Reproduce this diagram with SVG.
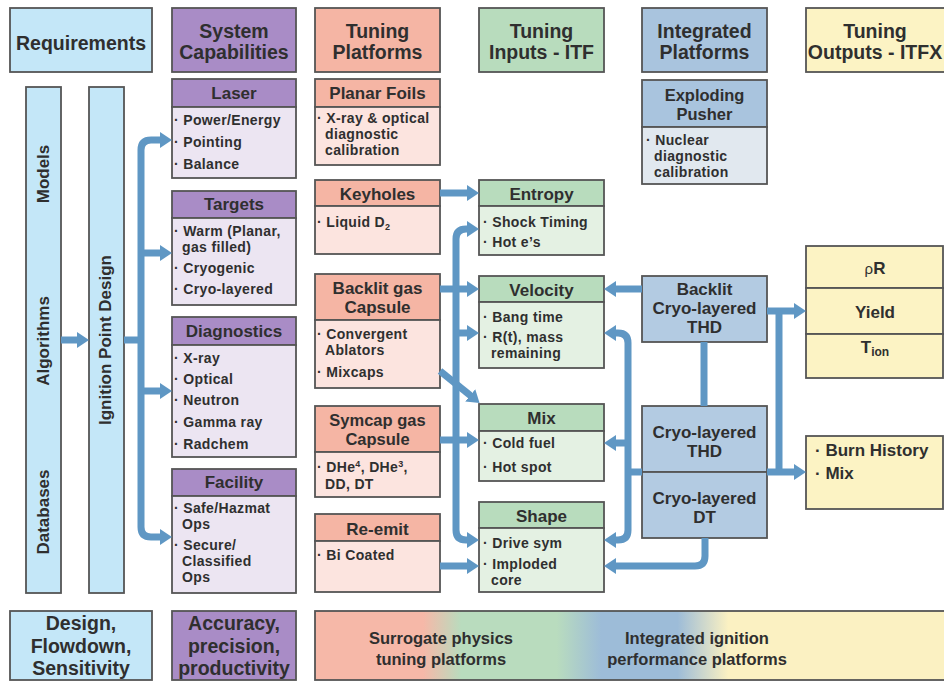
<svg xmlns="http://www.w3.org/2000/svg" width="944" height="683" viewBox="0 0 944 683">
<defs>
<style>
text{font-family:"Liberation Sans",Arial,Helvetica,sans-serif;font-weight:bold;fill:#2f2f2f}
.ti{font-size:19.5px;text-anchor:middle}
.hd{font-size:17px;text-anchor:middle}
.hd2{font-size:16.5px;text-anchor:middle}
.bd{font-size:14px;letter-spacing:0.35px}
.vt{font-size:17px;text-anchor:middle}
.op{font-size:17px}
.bt{font-size:16.5px;text-anchor:middle}
rect{stroke:#555;stroke-width:1.8}
.req{fill:#c4e7f8}
.purH{fill:#a98cc6}.purB{fill:#ece5f2}
.salH{fill:#f5b5a4}.salB{fill:#fce4df}
.grnH{fill:#b8dcbd}.grnB{fill:#e4f1e3}
.bluH{fill:#a9c4de}.bluB{fill:#e1e8ef}.blu{fill:#b3cbe2}
.yel{fill:#fcf3c4}
.cn{fill:none;stroke:#5f97c4;stroke-width:7}
.ar{marker-end:url(#ah)}
</style>
<marker id="ah" viewBox="0 0 12 16" refX="1" refY="8" markerWidth="12" markerHeight="16" markerUnits="userSpaceOnUse" orient="auto"><path d="M0,0 L12,8 L0,16 Z" fill="#5f97c4"/></marker>
<linearGradient id="gr" x1="0" y1="0" x2="1" y2="0">
<stop offset="0" stop-color="#f6b8a8"/>
<stop offset="0.17" stop-color="#f6b8a8"/>
<stop offset="0.23" stop-color="#b9dcbe"/>
<stop offset="0.38" stop-color="#b9dcbe"/>
<stop offset="0.45" stop-color="#9dbcd8"/>
<stop offset="0.57" stop-color="#9dbcd8"/>
<stop offset="0.65" stop-color="#fbf1c2"/>
<stop offset="1" stop-color="#fbf1c2"/>
</linearGradient>
</defs>

<!-- column titles -->
<g id="title-requirements"><rect class="req" x="10" y="8" width="142" height="64"/><text class="ti" x="81" y="50">Requirements</text></g>
<g id="title-system"><rect class="purH" x="172" y="8" width="124" height="64"/><text class="ti" x="234" y="38">System</text><text class="ti" x="234" y="59">Capabilities</text></g>
<g id="title-tuning-platforms"><rect class="salH" x="315" y="8" width="125" height="64"/><text class="ti" x="377.5" y="38">Tuning</text><text class="ti" x="377.5" y="59">Platforms</text></g>
<g id="title-tuning-inputs"><rect class="grnH" x="479" y="8" width="125" height="64"/><text class="ti" x="541.5" y="38">Tuning</text><text class="ti" x="541.5" y="59">Inputs - ITF</text></g>
<g id="title-integrated"><rect class="bluH" x="642" y="8" width="125" height="64"/><text class="ti" x="704.5" y="38">Integrated</text><text class="ti" x="704.5" y="59">Platforms</text></g>
<g id="title-outputs"><rect class="yel" x="806" y="8" width="145" height="64"/><text class="ti" x="875" y="38">Tuning</text><text class="ti" x="875" y="59">Outputs - ITFX</text></g>

<!-- requirement bars -->
<g id="bar-models"><rect class="req" x="26" y="87" width="35" height="506"/>
<text class="vt" transform="translate(49,174) rotate(-90)">Models</text>
<text class="vt" transform="translate(49,341) rotate(-90)">Algorithms</text>
<text class="vt" transform="translate(49,512) rotate(-90)">Databases</text></g>
<g id="bar-ignition"><rect class="req" x="89" y="87" width="35" height="506"/>
<text class="vt" transform="translate(111,340) rotate(-90)">Ignition Point Design</text></g>

<!-- system capabilities -->
<g id="laser"><rect class="purH" x="172" y="79" width="124" height="28"/><rect class="purB" x="172" y="107" width="124" height="71"/>
<text class="hd" x="234" y="99">Laser</text>
<text class="bd" x="174" y="125">· Power/Energy</text><text class="bd" x="174" y="147">· Pointing</text><text class="bd" x="174" y="169">· Balance</text></g>
<g id="targets"><rect class="purH" x="172" y="191" width="124" height="27"/><rect class="purB" x="172" y="218" width="124" height="87"/>
<text class="hd" x="234" y="210">Targets</text>
<text class="bd" x="174" y="236">· Warm (Planar,</text><text class="bd" x="182" y="252">gas filled)</text><text class="bd" x="174" y="273">· Cryogenic</text><text class="bd" x="174" y="294">· Cryo-layered</text></g>
<g id="diagnostics"><rect class="purH" x="172" y="317" width="124" height="28"/><rect class="purB" x="172" y="345" width="124" height="112"/>
<text class="hd" x="234" y="337">Diagnostics</text>
<text class="bd" x="174" y="363">· X-ray</text><text class="bd" x="174" y="384">· Optical</text><text class="bd" x="174" y="405">· Neutron</text><text class="bd" x="174" y="427">· Gamma ray</text><text class="bd" x="174" y="449">· Radchem</text></g>
<g id="facility"><rect class="purH" x="172" y="469" width="124" height="27"/><rect class="purB" x="172" y="496" width="124" height="97"/>
<text class="hd" x="234" y="488">Facility</text>
<text class="bd" x="174" y="513">· Safe/Hazmat</text><text class="bd" x="182" y="529">Ops</text><text class="bd" x="174" y="550">· Secure/</text><text class="bd" x="182" y="566">Classified</text><text class="bd" x="182" y="582">Ops</text></g>

<!-- tuning platforms -->
<g id="planar-foils"><rect class="salH" x="315" y="79" width="125" height="28"/><rect class="salB" x="315" y="107" width="125" height="58"/>
<text class="hd" x="377.5" y="99">Planar Foils</text>
<text class="bd" x="317" y="123">· X-ray &amp; optical</text><text class="bd" x="325" y="139">diagnostic</text><text class="bd" x="325" y="155">calibration</text></g>
<g id="keyholes"><rect class="salH" x="315" y="180" width="125" height="26"/><rect class="salB" x="315" y="206" width="125" height="48"/>
<text class="hd" x="377.5" y="200">Keyholes</text>
<text class="bd" x="317" y="227">· Liquid D<tspan font-size="9" dy="3">2</tspan></text></g>
<g id="backlit-gas-capsule"><rect class="salH" x="315" y="274" width="125" height="46"/><rect class="salB" x="315" y="320" width="125" height="68"/>
<text class="hd" x="377.5" y="294">Backlit gas</text><text class="hd" x="377.5" y="313">Capsule</text>
<text class="bd" x="317" y="339">· Convergent</text><text class="bd" x="325" y="355">Ablators</text><text class="bd" x="317" y="377">· Mixcaps</text></g>
<g id="symcap-gas-capsule"><rect class="salH" x="315" y="406" width="125" height="46"/><rect class="salB" x="315" y="452" width="125" height="45"/>
<text class="hd2" x="377.5" y="426">Symcap gas</text><text class="hd2" x="377.5" y="445">Capsule</text>
<text class="bd" x="317" y="472">· DHe<tspan font-size="9" dy="-5">4</tspan><tspan dy="5">, DHe</tspan><tspan font-size="9" dy="-5">3</tspan><tspan dy="5">,</tspan></text><text class="bd" x="325" y="489">DD, DT</text></g>
<g id="re-emit"><rect class="salH" x="315" y="514" width="125" height="27"/><rect class="salB" x="315" y="541" width="125" height="51"/>
<text class="hd" x="377.5" y="535">Re-emit</text>
<text class="bd" x="317" y="560">· Bi Coated</text></g>

<!-- tuning inputs -->
<g id="entropy"><rect class="grnH" x="479" y="180" width="125" height="26"/><rect class="grnB" x="479" y="206" width="125" height="49"/>
<text class="hd" x="541.5" y="200">Entropy</text>
<text class="bd" x="483" y="227">· Shock Timing</text><text class="bd" x="483" y="247">· Hot e’s</text></g>
<g id="velocity"><rect class="grnH" x="479" y="276" width="125" height="26"/><rect class="grnB" x="479" y="302" width="125" height="66"/>
<text class="hd" x="541.5" y="296">Velocity</text>
<text class="bd" x="483" y="322">· Bang time</text><text class="bd" x="483" y="342">· R(t), mass</text><text class="bd" x="491" y="358">remaining</text></g>
<g id="mix"><rect class="grnH" x="479" y="404" width="125" height="27"/><rect class="grnB" x="479" y="431" width="125" height="50"/>
<text class="hd" x="541.5" y="424">Mix</text>
<text class="bd" x="483" y="448">· Cold fuel</text><text class="bd" x="483" y="472">· Hot spot</text></g>
<g id="shape"><rect class="grnH" x="479" y="502" width="125" height="26"/><rect class="grnB" x="479" y="528" width="125" height="64"/>
<text class="hd" x="541.5" y="522">Shape</text>
<text class="bd" x="483" y="548">· Drive sym</text><text class="bd" x="483" y="569">· Imploded</text><text class="bd" x="491" y="585">core</text></g>

<!-- integrated platforms -->
<g id="exploding-pusher"><rect class="bluH" x="642" y="80" width="125" height="47"/><rect class="bluB" x="642" y="127" width="125" height="57"/>
<text class="hd2" x="704.5" y="101">Exploding</text><text class="hd2" x="704.5" y="120">Pusher</text>
<text class="bd" x="646" y="145">· Nuclear</text><text class="bd" x="654" y="161">diagnostic</text><text class="bd" x="654" y="177">calibration</text></g>
<g id="backlit-cryo-thd"><rect class="blu" x="642" y="276" width="125" height="66"/>
<text class="hd" x="704.5" y="295">Backlit</text><text class="hd" x="704.5" y="314">Cryo-layered</text><text class="hd" x="704.5" y="333">THD</text></g>
<g id="cryo-thd"><rect class="blu" x="642" y="406" width="125" height="66"/>
<text class="hd" x="704.5" y="438">Cryo-layered</text><text class="hd" x="704.5" y="457">THD</text></g>
<g id="cryo-dt"><rect class="blu" x="642" y="472" width="125" height="66"/>
<text class="hd" x="704.5" y="504">Cryo-layered</text><text class="hd" x="704.5" y="523">DT</text></g>

<!-- tuning outputs -->
<g id="outputs-main"><rect class="yel" x="806" y="246" width="137" height="42"/><rect class="yel" x="806" y="288" width="137" height="46"/><rect class="yel" x="806" y="334" width="137" height="44"/>
<text class="op" x="875" y="274" text-anchor="middle"><tspan font-weight="normal" font-size="15">ρ</tspan>R</text>
<text class="op" x="875" y="318" text-anchor="middle">Yield</text>
<text class="op" x="875" y="353" text-anchor="middle">T<tspan font-size="12" dy="3">ion</tspan></text></g>
<g id="outputs-burn"><rect class="yel" x="806" y="436" width="137" height="73"/>
<text class="op" x="815" y="456">· Burn History</text><text class="op" x="815" y="479">· Mix</text></g>

<!-- bottom row -->
<g id="bottom-design"><rect class="req" x="10" y="611" width="142" height="69"/>
<text class="ti" x="81" y="630">Design,</text><text class="ti" x="81" y="653">Flowdown,</text><text class="ti" x="81" y="675">Sensitivity</text></g>
<g id="bottom-accuracy"><rect class="purH" x="172" y="611" width="124" height="69"/>
<text class="ti" x="234" y="630">Accuracy,</text><text class="ti" x="234" y="653">precision,</text><text class="ti" x="234" y="675">productivity</text></g>
<g id="bottom-platforms"><rect fill="url(#gr)" x="315" y="611" width="636" height="69"/>
<text class="bt" x="441" y="644">Surrogate physics</text><text class="bt" x="441" y="665">tuning platforms</text>
<text class="bt" x="697" y="644">Integrated ignition</text><text class="bt" x="697" y="665">performance platforms</text></g>

<!-- connectors -->
<g id="connectors">
<path class="cn ar" d="M61,340 H78"/>
<path class="cn" d="M124,340 H141"/>
<path class="cn ar" d="M141,340 V150 Q141,140 151,140 H161"/>
<path class="cn ar" d="M141,340 V527 Q141,537 151,537 H161"/>
<path class="cn ar" d="M141,253 H161"/>
<path class="cn ar" d="M141,391 H161"/>

<path class="cn ar" d="M440,193 H468"/>
<path class="cn ar" d="M440,289 H468"/>
<path class="cn ar" d="M440,371 L471,396"/>
<path class="cn ar" d="M440,440 H468"/>
<path class="cn ar" d="M440,566 H468"/>
<path class="cn ar" d="M456,333 V239 Q456,229 466,229 H468"/>
<path class="cn ar" d="M456,333 V530 Q456,540 466,540 H468"/>
<path class="cn ar" d="M456,333 H468"/>

<path class="cn ar" d="M642,289 H615"/>
<path class="cn" d="M642,472 H628"/>
<path class="cn ar" d="M628,472 V343 Q628,333 618,333 H615"/>
<path class="cn ar" d="M628,472 V530 Q628,540 618,540 H615"/>
<path class="cn ar" d="M628,443 H615"/>
<path class="cn ar" d="M705,538 V556 Q705,566 695,566 H615"/>
<path class="cn" d="M704,342 V406"/>

<path class="cn ar" d="M767,311 H795"/>
<path class="cn" d="M779,311 V472"/>
<path class="cn ar" d="M767,472 H795"/>
</g>
</svg>
